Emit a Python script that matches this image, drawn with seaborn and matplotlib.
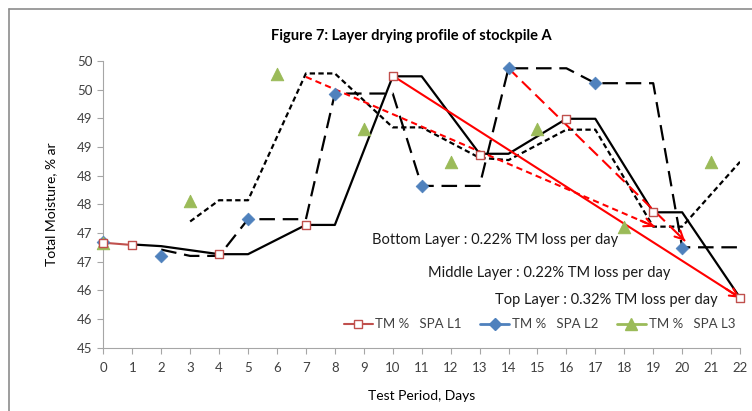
import numpy as np
import pandas as pd
import matplotlib
matplotlib.use('Agg')
import matplotlib.pyplot as plt
import seaborn as sns
from matplotlib.lines import Line2D

sns.set_theme(style='white')
plt.rcParams['font.family'] = ['Lato', 'DejaVu Sans']

days_l1 = [0, 1, 4, 7, 10, 13, 16, 19, 22]
tm_l1 = [46.83, 46.79, 46.64, 47.14, 49.74, 48.36, 48.99, 47.36, 45.87]
days_l2 = [0, 2, 5, 8, 11, 14, 17, 20]
tm_l2 = [46.84, 46.60, 47.24, 49.43, 47.82, 49.87, 49.61, 46.74]
days_l3 = [0, 3, 6, 9, 12, 15, 18, 21]
tm_l3 = [46.82, 47.56, 49.77, 48.82, 48.24, 48.82, 47.10, 48.24]

# moving average trendlines (black)
ma1_x = [1, 2, 4, 5, 7, 8, 10, 11, 13, 14, 16, 17, 19, 20, 22]
ma1_y = [46.80, 46.77, 46.63, 46.63, 47.14, 47.14, 49.73, 49.73, 48.38, 48.38, 48.99, 48.99, 47.36, 47.36, 45.87]
ma2_x = [2, 3, 4, 5, 7, 8, 10, 11, 13, 14, 16, 17, 19, 20, 22]
ma2_y = [46.71, 46.60, 46.60, 47.24, 47.24, 49.43, 49.43, 47.82, 47.82, 49.87, 49.87, 49.61, 49.61, 46.75, 46.75]
ma3_x = [3, 4, 5, 7, 8, 10, 11, 13, 14, 16, 17, 19, 20, 22]
ma3_y = [47.20, 47.57, 47.57, 49.78, 49.78, 48.84, 48.84, 48.31, 48.27, 48.80, 48.80, 47.11, 47.11, 48.24]

# drying rate arrows: (start day, start TM, end day, end TM)
arrow_bottom = (7, 49.72, 19.05, 47.11)
arrow_middle = (14, 49.87, 20.1, 46.86)
arrow_top = (10, 49.74, 22, 45.87)

yticks = [45, 45.5, 46, 46.5, 47, 47.5, 48, 48.5, 49, 49.5, 50]
ytick_labels = ['45', '46', '46', '47', '47', '48', '48', '49', '49', '50', '50']

red = '#C0504D'
blue = '#4F81BD'
green = '#9BBB59'
grey = '#A6A6A6'
txt = '#404040'

fig = plt.figure(figsize=(7.52, 4.11), dpi=100)
ax = fig.add_axes([0.1374, 0.154, 0.8467, 0.698])

# trendlines
ax.plot(ma1_x, ma1_y, color='black', lw=1.6, zorder=2)
ax.plot(ma2_x, ma2_y, color='black', lw=1.6, dashes=(7, 3.5), zorder=2)
ax.plot(ma3_x, ma3_y, color='black', lw=1.6, dashes=(2.4, 1.5), zorder=2)

# series lines only join consecutive days (gaps elsewhere)
for days, tm, col in [(days_l1, tm_l1, red), (days_l2, tm_l2, blue), (days_l3, tm_l3, green)]:
    for i in range(len(days) - 1):
        if days[i + 1] - days[i] == 1:
            sns.lineplot(x=days[i:i + 2], y=tm[i:i + 2], color=col, lw=1.5, ax=ax, zorder=3)

sns.scatterplot(x=days_l2, y=tm_l2, marker='D', s=42, color=blue, edgecolor=blue, ax=ax, zorder=4, clip_on=False)
sns.scatterplot(x=days_l3, y=tm_l3, marker='^', s=80, color=green, edgecolor=green, ax=ax, zorder=4, clip_on=False)
sns.scatterplot(x=days_l1, y=tm_l1, marker='s', s=36, color='white', edgecolor=red, linewidth=1.0, ax=ax,
                zorder=5, clip_on=False)


def draw_arrow(a, dashes):
    x0, y0, x1, y1 = a
    if dashes is None:
        ax.plot([x0, x1], [y0, y1], color='red', lw=1.5, zorder=3)
    else:
        ax.plot([x0, x1], [y0, y1], color='red', lw=1.5, dashes=dashes, zorder=3)
    xs = x1 - (x1 - x0) * 0.04
    ys = y1 - (y1 - y0) * 0.04
    ax.annotate('', xy=(x1, y1), xytext=(xs, ys),
                arrowprops=dict(arrowstyle='->', color='red', lw=1.5,
                                mutation_scale=15, shrinkA=0, shrinkB=0), zorder=3)


draw_arrow(arrow_bottom, (3, 2))
draw_arrow(arrow_middle, (6, 3))
draw_arrow(arrow_top, None)

ax.text(9.27, 46.88, 'Bottom Layer : 0.22% TM loss per day', fontsize=10.5, color='#1a1a1a', va='center', ha='left')
ax.text(11.23, 46.30, 'Middle Layer : 0.22% TM loss per day', fontsize=10.5, color='#1a1a1a', va='center', ha='left')
ax.text(13.53, 45.83, 'Top Layer : 0.32% TM loss per day', fontsize=10.5, color='#1a1a1a', va='center', ha='left')

ax.set_xlim(0, 22)
ax.set_ylim(45, 50)
ax.set_xticks(range(0, 23))
ax.set_yticks(yticks)
ax.set_yticklabels(ytick_labels)
ax.tick_params(axis='both', which='major', direction='out', length=4, width=0.8,
               color=grey, labelcolor=txt, labelsize=9.5, pad=4, left=True, bottom=True)
ax.tick_params(axis='x', pad=6)
for s in ['top', 'right']:
    ax.spines[s].set_visible(False)
for s in ['left', 'bottom']:
    ax.spines[s].set_color(grey)
    ax.spines[s].set_linewidth(0.8)

ax.set_xlabel('Test Period, Days', fontsize=10, color='black', labelpad=12)
ax.set_ylabel('Total Moisture, % ar', fontsize=10, color='black', labelpad=14)
fig.text(411.7 / 752, 1 - 36 / 411, 'Figure 7: Layer drying profile of stockpile A', fontsize=10.5,
         fontweight='bold', color='black', ha='center', va='center')

handles = [
    Line2D([], [], color=red, lw=1.5, marker='s', markersize=6, markerfacecolor='white', markeredgecolor=red),
    Line2D([], [], color=blue, lw=2, marker='D', markersize=6, markerfacecolor=blue, markeredgecolor=blue),
    Line2D([], [], color=green, lw=2, marker='^', markersize=8, markerfacecolor=green, markeredgecolor=green),
]
labels = ['TM %   SPA L1', 'TM %   SPA L2', 'TM %   SPA L3']
leg = ax.legend(handles, labels, ncol=3, loc='center', bbox_to_anchor=(0.685, 0.0815),
                frameon=False, fontsize=9.5, handlelength=2.2, handletextpad=0.2,
                columnspacing=1.4, borderaxespad=0)
for t in leg.get_texts():
    t.set_color(txt)

# outer chart border (top and left visible)
fig.add_artist(Line2D([8.5 / 752, 8.5 / 752], [0, 1 - 9 / 411], transform=fig.transFigure, color='#8C8C8C', lw=1.2))
fig.add_artist(Line2D([8.5 / 752, 1], [1 - 9 / 411, 1 - 9 / 411], transform=fig.transFigure, color='#8C8C8C', lw=1.2))

fig.savefig('out.png', dpi=100)
